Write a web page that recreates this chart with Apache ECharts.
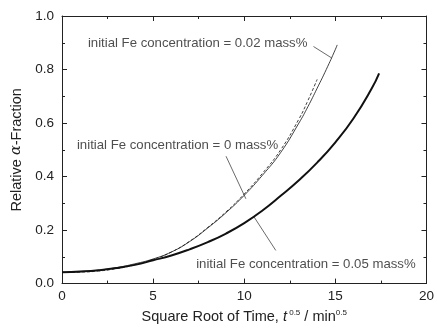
<!DOCTYPE html>
<html>
<head>
<meta charset="utf-8">
<script src="https://cdn.jsdelivr.net/npm/echarts@6/dist/echarts.min.js"></script>
<style>html,body{margin:0;padding:0;background:#fff}#c{width:437px;height:329px}</style>
</head>
<body>
<div id="c"></div>
<script>
// Curve: initial Fe concentration = 0.05 mass% (thick)
const xThick = [0,1,2,3,4,5,6,7,8,9,10,11,12,13,14,15,16,17,17.4];
const yThick = [0.042,0.045,0.050,0.058,0.070,0.087,0.105,0.128,0.155,0.187,0.226,0.273,0.328,0.386,0.452,0.528,0.618,0.730,0.786];
// Curve: initial Fe concentration = 0.02 mass% (thin)
const xThin = [0,1,2,3,4,5,6,7,8,9,10,11,12,13,13.5,14,14.5,15,15.1];
const yThin = [0.042,0.044,0.050,0.060,0.074,0.092,0.118,0.157,0.208,0.265,0.330,0.405,0.490,0.600,0.662,0.730,0.800,0.875,0.892];
// Curve: initial Fe concentration = 0 mass% (dashed)
const xDash = [0,1,2,3,4,5,6,7,8,9,10,11,12,13,13.5,14];
const yDash = [0.042,0.043,0.047,0.056,0.070,0.090,0.118,0.158,0.210,0.268,0.335,0.412,0.500,0.615,0.685,0.763];
// Annotation labels and their anchor (data coords)
const labels = ['initial Fe concentration = 0.02 mass%','initial Fe concentration = 0 mass%','initial Fe concentration = 0.05 mass%'];
const labelX = [1.42, 0.82, 7.36];
const labelY = [0.896, 0.517, 0.072];
// Leader lines [x1,y1,x2,y2]
const leaders = [[13.80,0.886,14.80,0.843],[9.00,0.476,10.09,0.317],[10.53,0.250,11.73,0.124]];
// Axis ticks
const xTicks = [0,5,10,15,20];
const yTicks = [0,0.2,0.4,0.6,0.8,1.0];

const font = 'Liberation Sans, Arial, Helvetica, sans-serif';
const zip = (xs, ys) => xs.map((x, i) => [x, ys[i]]);

const axisCommon = {
  type: 'value',
  axisLine: {show: true, onZero: false, lineStyle: {color: '#222', width: 1}},
  axisTick: {show: true, inside: true, length: 5, lineStyle: {color: '#222'}},
  minorTick: {show: true, splitNumber: 2, length: 3, lineStyle: {color: '#222'}},
  splitLine: {show: false}
};

const series = [
  {type: 'line', data: zip(xThin, yThin), showSymbol: false, symbol: 'none', smooth: true,
   lineStyle: {color: '#111', width: 0.8}, z: 3},
  {type: 'line', data: zip(xDash, yDash), showSymbol: false, symbol: 'none', smooth: true,
   lineStyle: {color: '#111', width: 0.8, type: [3, 2]}, z: 4},
  {type: 'line', data: zip(xThick, yThick), showSymbol: false, symbol: 'none', smooth: true,
   lineStyle: {color: '#111', width: 2}, z: 3},
  {type: 'scatter', symbolSize: 0, silent: true,
   data: labels.map((n, i) => ({name: n, value: [labelX[i], labelY[i]]})),
   label: {show: true, position: 'right', distance: 0, formatter: p => p.name,
           color: '#222', fontSize: 13.2, fontFamily: font}}
];
leaders.forEach(l => series.push({
  type: 'line', data: [[l[0], l[1]], [l[2], l[3]]], symbol: 'none', silent: true,
  lineStyle: {color: '#444', width: 0.8}, z: 2
}));

const chart = echarts.init(document.getElementById('c'), null, {renderer: 'canvas'});
chart.setOption({
  animation: false,
  backgroundColor: '#fff',
  grid: {left: 62, right: 8, top: 16, bottom: 44},
  xAxis: [
    Object.assign({}, axisCommon, {
      min: xTicks[0], max: xTicks[xTicks.length - 1], interval: 5, position: 'bottom',
      axisLabel: {color: '#222', fontSize: 13.5, fontFamily: font, margin: 6},
      name: 'Square Root of Time, {i|t}{sup| 0.5} / min{sup|0.5}',
      nameLocation: 'middle', nameGap: 23,
      nameTextStyle: {color: '#222', fontSize: 14.5, fontFamily: font,
        rich: {i: {fontStyle: 'italic', fontSize: 14.5, fontFamily: font, color: '#222'},
               sup: {fontSize: 8, fontFamily: font, color: '#222', verticalAlign: 'top', padding: [0,0,8,0]}}}
    }),
    Object.assign({}, axisCommon, {
      min: xTicks[0], max: xTicks[xTicks.length - 1], interval: 5, position: 'top',
      axisLabel: {show: false}
    })
  ],
  yAxis: [
    Object.assign({}, axisCommon, {
      min: yTicks[0], max: yTicks[yTicks.length - 1], interval: 0.2, position: 'left',
      axisLabel: {color: '#222', fontSize: 13.5, fontFamily: font, margin: 8, formatter: v => v.toFixed(1)},
      name: 'Relative {a|α}-Fraction', nameLocation: 'middle', nameGap: 38,
      nameTextStyle: {color: '#222', fontSize: 14.5, fontFamily: font,
        rich: {a: {fontStyle: 'italic', fontSize: 14.5, fontFamily: 'DejaVu Serif, serif', color: '#222'}}}
    }),
    Object.assign({}, axisCommon, {
      min: yTicks[0], max: yTicks[yTicks.length - 1], interval: 0.2, position: 'right',
      axisLabel: {show: false}
    })
  ],
  series: series
});
</script>
</body>
</html>
